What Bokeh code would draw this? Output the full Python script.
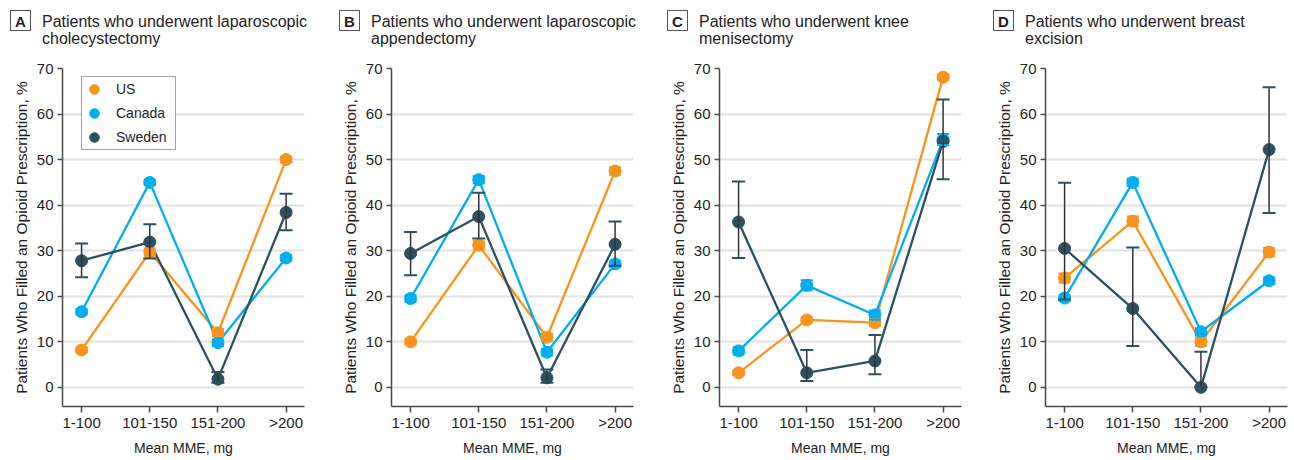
from bokeh.plotting import figure
from bokeh.layouts import row, column
from bokeh.models import (Range1d, FixedTicker, Whisker, ColumnDataSource, Div,
                          Legend, LegendItem, TeeHead)
from bokeh.embed import file_html
from bokeh.resources import INLINE

# ---------------- data ----------------
categories = ["1-100", "101-150", "151-200", ">200"]
y_ticks = [0, 10, 20, 30, 40, 50, 60, 70]
series_names = ["US", "Canada", "Sweden"]

# Panel A: laparoscopic cholecystectomy
us_A = [8.2, 29.7, 12.0, 50.0]
ca_A = [16.6, 45.0, 9.8, 28.4]
se_A = [27.8, 31.9, 1.8, 38.4]
se_A_lo = [24.2, 28.3, 1.0, 34.5]
se_A_hi = [31.6, 35.8, 3.4, 42.5]
us_A_ci = [0.6, 0.8, 0.8, 0.6]
ca_A_ci = [0.6, 0.6, 0.7, 0.6]

# Panel B: laparoscopic appendectomy
us_B = [10.0, 31.2, 11.0, 47.5]
ca_B = [19.5, 45.6, 7.7, 27.1]
se_B = [29.4, 37.5, 2.1, 31.4]
se_B_lo = [24.6, 32.7, 1.0, 26.7]
se_B_hi = [34.1, 42.7, 3.9, 36.4]
us_B_ci = [0.6, 0.9, 0.8, 0.8]
ca_B_ci = [0.7, 0.8, 0.7, 0.7]

# Panel C: knee menisectomy
us_C = [3.2, 14.8, 14.2, 68.1]
ca_C = [8.0, 22.4, 15.9, 54.4]
se_C = [36.3, 3.2, 5.8, 54.0]
se_C_lo = [28.4, 1.4, 2.9, 45.7]
se_C_hi = [45.2, 8.2, 11.5, 63.2]
us_C_ci = [0.5, 0.6, 0.8, 0.6]
ca_C_ci = [0.8, 1.1, 1.0, 1.2]

# Panel D: breast excision
us_D = [24.0, 36.5, 10.0, 29.7]
ca_D = [19.6, 45.0, 12.2, 23.4]
se_D = [30.5, 17.3, 0.0, 52.2]
se_D_lo = [19.3, 9.1, 0.0, 38.3]
se_D_hi = [44.9, 30.7, 7.8, 65.9]
us_D_ci = [1.0, 1.0, 0.9, 0.9]
ca_D_ci = [0.7, 0.8, 0.8, 0.7]

panel_letters = ["A", "B", "C", "D"]
panel_line1 = ["Patients who underwent laparoscopic",
               "Patients who underwent laparoscopic",
               "Patients who underwent knee",
               "Patients who underwent breast"]
panel_line2 = ["cholecystectomy", "appendectomy", "menisectomy", "excision"]

x_label = "Mean MME, mg"
y_label = "Patients Who Filled an Opioid Prescription, %"

# ---------------- style ----------------
FONT = "Liberation Sans"
C_US = "#F7941D"
C_CA = "#00AEEF"
C_SE = "#2B5060"
AXIS_C = "#4a4a4a"
TEXT_C = "#222222"

panel_data = [
    (us_A, ca_A, se_A, se_A_lo, se_A_hi, us_A_ci, ca_A_ci),
    (us_B, ca_B, se_B, se_B_lo, se_B_hi, us_B_ci, ca_B_ci),
    (us_C, ca_C, se_C, se_C_lo, se_C_hi, us_C_ci, ca_C_ci),
    (us_D, ca_D, se_D, se_D_lo, se_D_hi, us_D_ci, ca_D_ci),
]
fig_widths = [329, 328, 327, 310]
border_left = [62, 62, 62, 61]
border_right = [25, 24, 23, 7]
DIV_H = 58
FIG_H = 402

xs = list(range(len(categories)))
cols = []
for i, (us, ca, se, se_lo, se_hi, us_ci, ca_ci) in enumerate(panel_data):
    src = ColumnDataSource(dict(
        x=xs, us=us, ca=ca, se=se,
        us_lo=[v - e for v, e in zip(us, us_ci)], us_hi=[v + e for v, e in zip(us, us_ci)],
        ca_lo=[v - e for v, e in zip(ca, ca_ci)], ca_hi=[v + e for v, e in zip(ca, ca_ci)],
        se_lo=se_lo, se_hi=se_hi))

    p = figure(width=fig_widths[i], height=FIG_H,
               x_range=Range1d(-0.28, 3.27), y_range=Range1d(-4.2, 70),
               output_backend="svg", toolbar_location=None,
               min_border_left=border_left[i], min_border_right=border_right[i],
               min_border_top=10, min_border_bottom=54)
    p.outline_line_color = None
    p.background_fill_color = "white"
    p.xgrid.grid_line_color = None
    p.ygrid.grid_line_color = "#e2e2e2"
    p.ygrid.grid_line_width = 2

    p.xaxis.ticker = FixedTicker(ticks=xs)
    p.xaxis.major_label_overrides = {k: c for k, c in enumerate(categories)}
    p.yaxis.ticker = FixedTicker(ticks=y_ticks)
    for ax in (p.xaxis[0], p.yaxis[0]):
        ax.axis_line_color = AXIS_C
        ax.axis_line_width = 1.5
        ax.major_tick_line_color = AXIS_C
        ax.major_tick_line_width = 1.5
        ax.major_tick_in = 0
        ax.minor_tick_line_color = None
        ax.major_label_text_font = FONT
        ax.major_label_text_font_size = "15px"
        ax.major_label_text_color = TEXT_C
        ax.axis_label_text_font = FONT
        ax.axis_label_text_font_style = "normal"
        ax.axis_label_text_color = TEXT_C
    p.xaxis.axis_label_text_font_size = "14px"
    p.yaxis.axis_label_text_font_size = "15.5px"
    p.xaxis.major_tick_out = 6
    p.xaxis.major_label_standoff = 1
    p.xaxis.axis_label_standoff = 6
    p.xaxis.axis_label = x_label
    p.yaxis.major_tick_out = 5
    p.yaxis.major_label_standoff = 4
    p.yaxis.axis_label_standoff = 4
    p.yaxis.axis_label = y_label

    specs = [("us", C_US, C_US, 12, 2), ("ca", C_CA, C_CA, 12, 2), ("se", C_SE, "#333333", 13, 1.5)]
    for key, col, _, _, _ in specs:
        p.line("x", key, source=src, line_color=col, line_width=2.3)
    renders = {}
    for key, col, wcol, head, wlw in specs:
        w = Whisker(base="x", upper=key + "_hi", lower=key + "_lo", source=src,
                    level="glyph", line_color=wcol, line_width=wlw,
                    upper_head=TeeHead(size=head, line_color=col, line_width=2),
                    lower_head=TeeHead(size=head, line_color=col, line_width=2))
        p.add_layout(w)
        renders[key] = p.scatter("x", key, source=src, size=12, fill_color=col,
                                 line_color=col, line_width=1)

    if i == 0:
        legend = Legend(items=[LegendItem(label=series_names[0], renderers=[renders["us"]]),
                               LegendItem(label=series_names[1], renderers=[renders["ca"]]),
                               LegendItem(label=series_names[2], renderers=[renders["se"]])],
                        location=(19, 256), orientation="vertical",
                        glyph_width=24, glyph_height=24, spacing=0, padding=0,
                        label_standoff=10, label_width=59, margin=0,
                        label_text_font=FONT, label_text_font_size="14px",
                        label_text_color=TEXT_C,
                        border_line_color="#444444", border_line_width=1,
                        background_fill_color="white", background_fill_alpha=1)
        p.add_layout(legend)

    box_left = border_left[i] - 52
    title_left = border_left[i] - 20
    html = (
        f'<div style="position:relative;width:{fig_widths[i]}px;height:{DIV_H}px;'
        f'font-family:\'{FONT}\';color:{TEXT_C};">'
        f'<div style="position:absolute;left:{box_left}px;top:10px;width:21px;height:21px;'
        f'border:1px solid #555;font-weight:bold;font-size:15px;line-height:21px;'
        f'text-align:center;">{panel_letters[i]}</div>'
        f'<div style="position:absolute;left:{title_left}px;top:13px;font-size:16px;'
        f'line-height:17px;white-space:nowrap;">{panel_line1[i]}<br>{panel_line2[i]}</div>'
        f'</div>'
    )
    div = Div(text=html, width=fig_widths[i], height=DIV_H, margin=0)
    cols.append(column(div, p, spacing=0))

layout = row(*cols, spacing=0)
open("out.html", "w").write(file_html(layout, INLINE))
